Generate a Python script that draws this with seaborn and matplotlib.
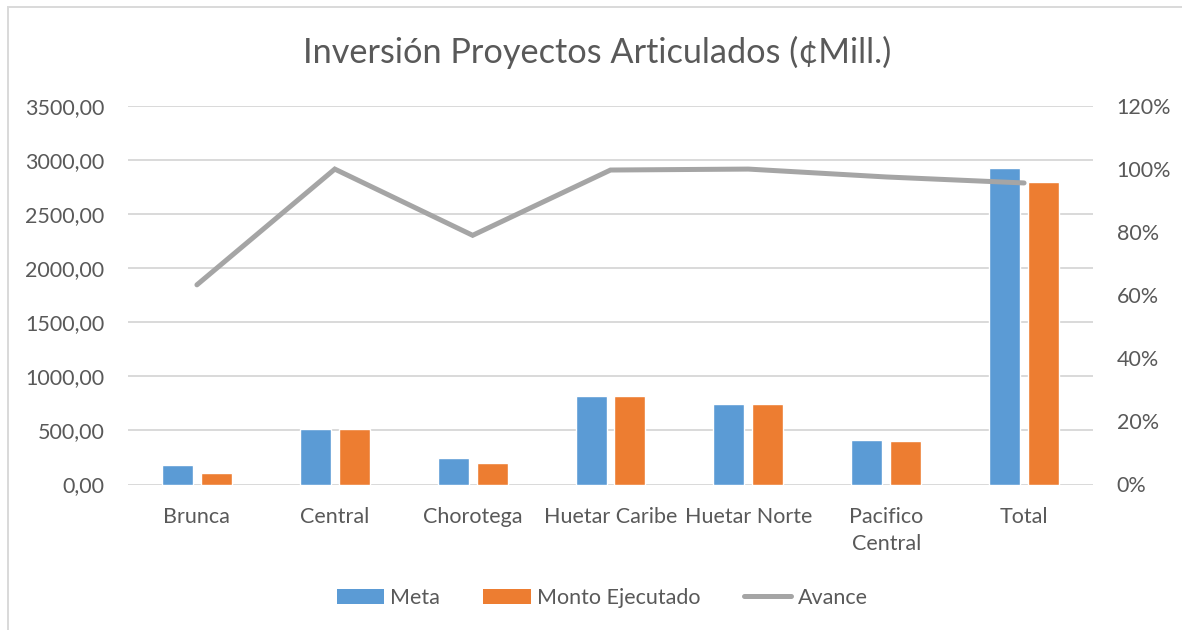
import numpy as np
import pandas as pd
import matplotlib
matplotlib.use("Agg")
import matplotlib.pyplot as plt
import seaborn as sns
from matplotlib.patches import Rectangle, Patch
from matplotlib.lines import Line2D
from matplotlib.ticker import FuncFormatter

categories = ["Brunca", "Central", "Chorotega", "Huetar Caribe", "Huetar Norte", "Pacifico\nCentral", "Total"]
meta = [177, 515, 248, 820, 748, 410, 2925]
monto = [110, 515, 196, 818, 746, 398, 2795]
avance = [0.633, 1.00, 0.79, 0.997, 1.00, 0.975, 0.956]
series_names = ["Meta", "Monto Ejecutado"]
yticks_left = [0, 500, 1000, 1500, 2000, 2500, 3000, 3500]
yticks_right = [0, 0.2, 0.4, 0.6, 0.8, 1.0, 1.2]

sns.set_theme(style="white")
plt.rcParams['font.family'] = ['Lato', 'DejaVu Sans']

TXT = "#595959"
GRID = "#D9D9D9"
BLUE = "#5B9BD5"
ORANGE = "#ED7D31"
GRAY = "#A5A5A5"
FS = 15.5

df = pd.DataFrame({
    "cat": categories * 2,
    "serie": [series_names[0]] * len(categories) + [series_names[1]] * len(categories),
    "valor": meta + monto,
})

fig = plt.figure(figsize=(11.82, 6.30), dpi=100)
ax = fig.add_axes([128 / 1182, 1 - 484.5 / 630, (1093 - 128) / 1182, (484.5 - 106) / 630])

sns.barplot(data=df, x="cat", y="valor", hue="serie", order=categories,
            hue_order=series_names, palette=[BLUE, ORANGE], width=0.564, gap=0.2,
            ax=ax, legend=False, saturation=1)

ax.set_ylim(0, 3500)
ax.set_xlim(-0.5, len(categories) - 0.5)
ax.set_yticks(yticks_left)
ax.yaxis.set_major_formatter(FuncFormatter(lambda v, p: f"{v:.2f}".replace(".", ",")))
ax.grid(axis="y", color=GRID, linewidth=1.4)
ax.set_axisbelow(True)
for s in ax.spines.values():
    s.set_visible(False)
ax.set_xlabel("")
ax.set_ylabel("")
ax.tick_params(axis="y", length=0, pad=17, labelsize=FS, labelcolor=TXT)
ax.tick_params(axis="x", length=0, pad=16, labelsize=FS, labelcolor=TXT)
for lbl in ax.get_xticklabels():
    lbl.set_linespacing(1.45)

ax2 = ax.twinx()
sns.lineplot(x=np.arange(len(categories)), y=avance, ax=ax2, color=GRAY,
             linewidth=3.6, solid_capstyle="round", solid_joinstyle="miter", legend=False)
ax2.set_ylim(0, 1.2)
ax2.set_yticks(yticks_right)
ax2.yaxis.set_major_formatter(FuncFormatter(lambda v, p: f"{v*100:.0f}%"))
ax2.tick_params(axis="y", length=0, pad=17, labelsize=FS, labelcolor=TXT)
for s in ax2.spines.values():
    s.set_visible(False)
ax2.set_ylabel("")
ax2.grid(False)
ax.set_xlim(-0.5, len(categories) - 0.5)

fig.text(597 / 1182, 1 - 52 / 630, "Inversión Proyectos Articulados (¢Mill.)",
         ha="center", va="center", fontsize=24.7, color=TXT)

handles = [Patch(facecolor=BLUE, edgecolor="none"),
           Patch(facecolor=ORANGE, edgecolor="none"),
           Line2D([0], [0], color=GRAY, linewidth=3.6, solid_capstyle="round")]
fig.legend(handles, ["Meta", "Monto Ejecutado", "Avance"], loc="center",
           bbox_to_anchor=(602 / 1182, 1 - 598 / 630), ncol=3, frameon=False,
           fontsize=FS, labelcolor=TXT, handlelength=2.2, handleheight=0.75,
           handletextpad=0.3, columnspacing=2.0)

fig.patches.append(Rectangle((8 / 1182, -0.1), 1.2, 1 - 7 / 630 + 0.1,
                             transform=fig.transFigure, fill=False,
                             edgecolor=GRID, linewidth=1.4, zorder=0))

fig.savefig("out.png", dpi=100)
